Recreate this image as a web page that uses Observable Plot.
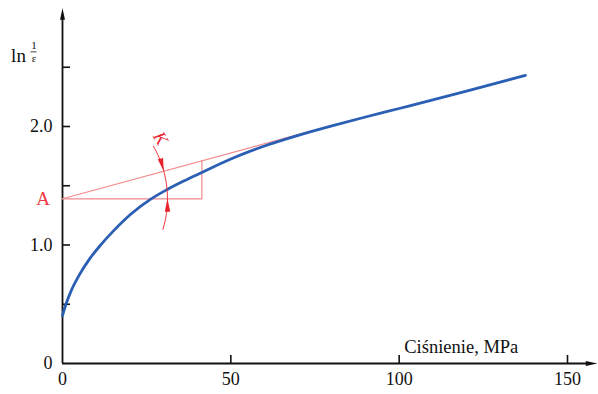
<!DOCTYPE html>
<html>
<head>
<meta charset="utf-8">
<script src="https://cdn.jsdelivr.net/npm/d3@7"></script>
<script src="https://cdn.jsdelivr.net/npm/@observablehq/plot@0.6"></script>
<style>
  html, body { margin: 0; padding: 0; background: #fff; }
  svg { display: block; }
  svg text, svg g { font-family: "Liberation Serif", "DejaVu Serif", Tinos, Times, serif !important; }
</style>
</head>
<body>
<div id="chart"></div>
<script>
// ---- data ----
const pressure = [0, 1, 2.5, 5, 8, 11.3, 15, 20, 26.1, 31, 36, 41.4, 50, 60, 70, 80, 90, 100, 120, 137.5];
const lnInvEps = [0.405, 0.498, 0.609, 0.748, 0.881, 0.999, 1.115, 1.253, 1.385, 1.467, 1.54, 1.612, 1.725, 1.835, 1.925, 2.005, 2.08, 2.152, 2.298, 2.432];

const xTicks = [0, 50, 100, 150];
const yLabelTicks = [0, 1, 2];
const yMarkTicks = [0.5, 1, 1.5, 2, 2.5];
const xMarkTicks = [50, 100, 150];

// annotation (tangent construction)
const pointA = 1.39;          // intercept A
const tangentSlope = 0.00774; // slope K
const tangentEnd = 74;        // where the tangent line stops
const triangleX = 41.4;       // right edge of the slope triangle
const arcRadiusPx = 105;      // radius of the K angle arc (pixels)
const arcAngles = [-17, -12, -8, -4, 0, 4, 8, 12, 15.3, 19, 23, 27, 30];

const xLabel = "Ciśnienie, MPa";

// ---- layout ----
const W = 598, H = 394;
const mL = 62, mR = 31, mT = 7.5, mB = 31;
const xDomain = [0, 150], yDomain = [0, 3];
const pxPerX = (W - mL - mR) / (xDomain[1] - xDomain[0]);
const pxPerY = (H - mT - mB) / (yDomain[1] - yDomain[0]);

const curve = pressure.map((p, i) => ({x: p, y: lnInvEps[i]}));

const rx = arcRadiusPx / pxPerX, ry = arcRadiusPx / pxPerY;
const arc = arcAngles.map(a => ({x: rx * Math.cos(a * Math.PI / 180), y: pointA + ry * Math.sin(a * Math.PI / 180)}));
const tA = Math.atan((tangentSlope * pxPerY) / pxPerX); // tangent angle in pixel space
const arrowTop = {x: rx * Math.cos(tA), y: pointA + ry * Math.sin(tA), rot: 180 - tA * 180 / Math.PI};
const arrowBottom = {x: rx, y: pointA, rot: 0};

// narrow filled arrowhead, tip at origin, pointing up
const headSymbol = {
  draw(ctx, size) {
    const r = Math.sqrt(size / Math.PI);
    const L = r * 2.6, w = r * 0.55;
    ctx.moveTo(0, 0);
    ctx.lineTo(w, L);
    ctx.lineTo(-w, L);
    ctx.closePath();
  }
};

const red = "#e8232c";
const pink = "#f2898c";
const blue = "#2b5fb4";
const serif = "Liberation Serif, DejaVu Serif, serif";

const xAxisEnd = (W - mL) / pxPerX - 0.3;

const plot = Plot.plot({
  width: W,
  height: H,
  marginLeft: mL,
  marginRight: mR,
  marginTop: mT,
  marginBottom: mB,
  x: {domain: xDomain},
  y: {domain: yDomain},
  style: {fontFamily: serif, fontSize: "17px", color: "#111", background: "white", overflow: "visible"},
  marks: [
    // axes lines
    Plot.ruleX([0], {y1: 0, y2: 2.93, stroke: "#111", strokeWidth: 1.8, clip: false}),
    Plot.ruleY([0], {x1: 0, x2: xAxisEnd - 2.5, stroke: "#111", strokeWidth: 1.8, clip: false}),
    Plot.dot([{x: 0, y: 3}], {x: "x", y: "y", symbol: headSymbol, r: 4.5, fill: "#111", stroke: "none", clip: false}),
    Plot.dot([{x: xAxisEnd, y: 0}], {x: "x", y: "y", symbol: headSymbol, r: 4.5, rotate: 90, fill: "#111", stroke: "none", clip: false}),
    // tick marks (inward)
    Plot.ruleY(yMarkTicks, {x1: 0, x2: 8 / pxPerX, stroke: "#111", strokeWidth: 1.6}),
    Plot.ruleX(xMarkTicks, {y1: 0, y2: 8 / pxPerY, stroke: "#111", strokeWidth: 1.6}),
    // tick labels
    Plot.axisX({ticks: xTicks, tickSize: 0, tickPadding: 9, label: null, fontSize: 18, fontFamily: serif, tickFormat: d => String(d)}),
    Plot.axisY({ticks: yLabelTicks, tickSize: 0, tickPadding: 10, label: null, fontSize: 18, fontFamily: serif,
      tickFormat: d => d === 0 ? "0" : d.toFixed(1)}),
    // axis titles
    Plot.text([xLabel], {x: 135.4, y: 0.135, text: d => d, textAnchor: "end", fontSize: 18.5, fontFamily: serif, fill: "#111"}),
    Plot.text(["ln"], {x: 0, y: 2.592, dx: -44, text: d => d, fontSize: 19, fontFamily: serif, fill: "#111", clip: false}),
    Plot.text(["1"], {x: 0, y: 2.68, dx: -28.5, text: d => d, fontSize: 11, fontFamily: serif, fill: "#111", clip: false}),
    Plot.text(["ε"], {x: 0, y: 2.575, dx: -28.5, text: d => d, fontSize: 11, fontFamily: serif, fill: "#111", clip: false}),
    Plot.ruleY([2.63], {x1: 0, x2: 0, dx: -28.5, stroke: "#111", strokeWidth: 0.8, insetLeft: -3, insetRight: -3}),
    // tangent construction
    Plot.line([{x: 0, y: pointA}, {x: tangentEnd, y: pointA + tangentSlope * tangentEnd}], {x: "x", y: "y", stroke: pink, strokeWidth: 1.2}),
    Plot.line([{x: 0, y: pointA}, {x: triangleX, y: pointA}, {x: triangleX, y: pointA + tangentSlope * triangleX}], {x: "x", y: "y", stroke: pink, strokeWidth: 1.2}),
    Plot.text(["A"], {x: 0, y: pointA, dx: -19.5, text: d => d, fontSize: 19, fontFamily: serif, fill: "#ee3a42", clip: false}),
    // curve
    Plot.line(curve, {x: "x", y: "y", stroke: blue, strokeWidth: 2.8, curve: "monotone-x"}),
    // K arc and arrows
    Plot.line(arc, {x: "x", y: "y", stroke: red, strokeWidth: 0.9, curve: "natural"}),
    Plot.dot([arrowTop, arrowBottom], {x: "x", y: "y", rotate: "rot", symbol: headSymbol, r: 5, fill: red, stroke: "none"}),
    Plot.text(["K"], {x: 29.1, y: 1.9, text: d => d, fontSize: 18, fontFamily: serif, fontStyle: "italic", fill: red, rotate: 60})
  ]
});

document.getElementById("chart").appendChild(plot);
</script>
</body>
</html>
